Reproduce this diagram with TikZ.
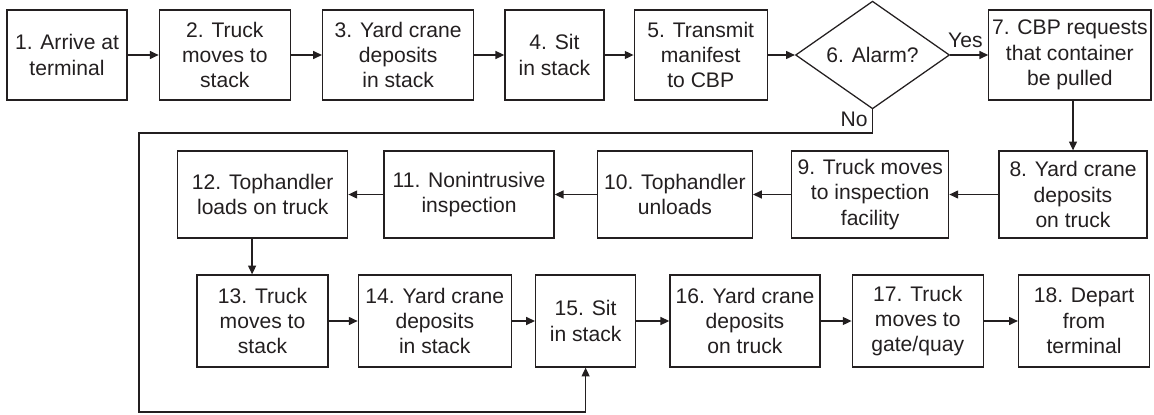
\documentclass[tikz,border=0pt]{standalone}
\usepackage{fontspec}
\setmainfont{Liberation Sans}
\usepackage{tikz}
\usetikzlibrary{arrows.meta,positioning,shapes.geometric}
\usepackage{xcolor}
\definecolor{ink}{HTML}{231F20}
\tikzset{
  stepbox/.style={draw=ink,line width=0.9pt,align=center,inner sep=1pt,
    text=ink,font=\fontsize{15}{18}\selectfont},
  toprow/.style={stepbox,minimum height=2.25cm},
  midrow/.style={stepbox,minimum height=2.175cm},
  lowrow/.style={stepbox,minimum height=2.3cm},
  decision/.style={draw=ink,line width=0.9pt,diamond,inner sep=0pt,
    minimum width=3.85cm,minimum height=2.6cm,text=ink,
    font=\fontsize{15}{18}\selectfont},
  arrow/.style={-{Triangle[length=2.2mm,width=2mm]},draw=ink,line width=0.9pt},
  labelstyle/.style={font=\fontsize{15}{18}\selectfont,inner sep=1pt,text=ink}
}

\begin{document}
\begin{tikzpicture}[x=0.025cm,y=-0.025cm]
        \useasboundingbox (0,0) rectangle (1154,414);
        % first row
        \node[toprow,minimum width=3cm] (b1) at (67,55) {1. Arrive at\\terminal};
        \node[toprow,minimum width=3.275cm,right=0.775cm of b1] (b2) {2. Truck\\moves to\\stack};
        \node[toprow,minimum width=3.775cm,right=0.775cm of b2] (b3) {3. Yard crane\\deposits\\in stack};
        \node[toprow,minimum width=2.475cm,right=0.75cm of b3] (b4) {4. Sit\\in stack};
        \node[toprow,minimum width=3.325cm,right=0.725cm of b4] (b5) {5. Transmit\\manifest\\to CBP};
        \node[decision,right=0.675cm of b5] (d6) {6. Alarm?};
        \node[toprow,minimum width=4.05cm,right=0.95cm of d6] (b7) {7. CBP requests\\that container\\be pulled};
        % second row, right to left
        \node[midrow,minimum width=3.7cm] (b8) at (1073,194.5) {8. Yard crane\\deposits\\on truck};
        \node[midrow,minimum width=3.925cm,left=1.225cm of b8] (b9) {9. Truck moves\\to inspection\\facility};
        \node[midrow,minimum width=3.875cm,left=0.95cm of b9] (b10) {10. Tophandler\\unloads};
        \node[midrow,minimum width=4.25cm,left=1.05cm of b10] (b11) {11. Nonintrusive\\inspection};
        \node[midrow,minimum width=4.25cm,left=0.875cm of b11] (b12) {12. Tophandler\\loads on truck};
        % third row
        \node[lowrow,minimum width=3.275cm] (b13) at (262.5,321) {13. Truck\\moves to\\stack};
        \node[lowrow,minimum width=3.825cm,right=0.725cm of b13] (b14) {14. Yard crane\\deposits\\in stack};
        \node[lowrow,minimum width=2.5cm,right=0.575cm of b14] (b15) {15. Sit\\in stack};
        \node[lowrow,minimum width=3.75cm,right=0.825cm of b15] (b16) {16. Yard crane\\deposits\\on truck};
        \node[lowrow,minimum width=3.275cm,right=0.775cm of b16] (b17) {17. Truck\\moves to\\gate/quay};
        \node[lowrow,minimum width=3.275cm,right=0.85cm of b17] (b18) {18. Depart\\from\\terminal};
        \coordinate (loopT) at (139,133);
        \coordinate (loopB) at (139,412);
        % connectors
        \draw[arrow] (b1)--(b2);
        \draw[arrow] (b2)--(b3);
        \draw[arrow] (b3)--(b4);
        \draw[arrow] (b4)--(b5);
        \draw[arrow] (b5)--(d6);
        \draw[arrow] (d6)--node[labelstyle,above=4pt,pos=0.4]{Yes}(b7);
        \draw[arrow] (b8.north |- b7.south)--(b8.north);
        \draw[arrow] (b8)--(b9);
        \draw[arrow] (b9)--(b10);
        \draw[arrow] (b10)--(b11);
        \draw[arrow] (b11)--(b12);
        \draw[arrow] ([xshift=-0.26cm]b13.north |- b12.south)--([xshift=-0.26cm]b13.north);
        \draw[arrow] (b13)--(b14);
        \draw[arrow] (b14)--(b15);
        \draw[arrow] (b15)--(b16);
        \draw[arrow] (b16)--(b17);
        \draw[arrow] (b17)--(b18);
        \draw[arrow] (d6.south) |- node[labelstyle,left=2pt,pos=0.22]{No} (loopT)
          -- (loopB) -| (b15.south);
      \end{tikzpicture}
\end{document}
